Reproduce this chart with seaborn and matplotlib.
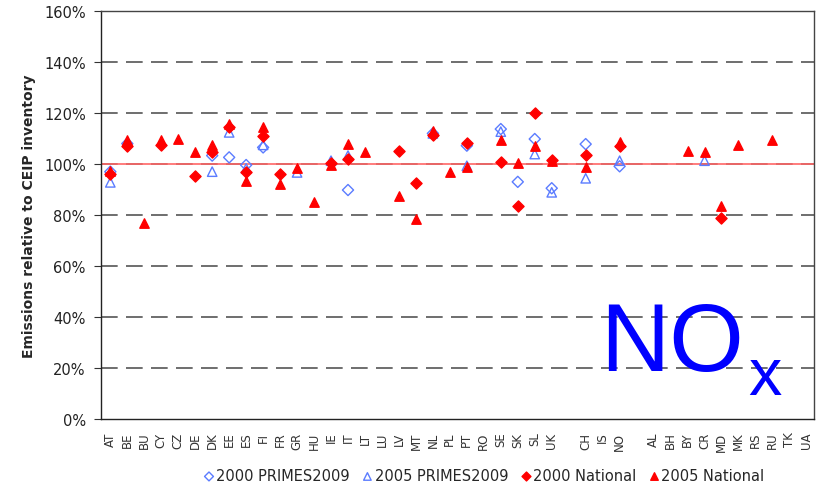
import matplotlib
matplotlib.use("Agg")
import matplotlib.pyplot as plt
import numpy as np
import pandas as pd
import seaborn as sns

# country codes on the x axis ("" = empty slot between groups)
countries = [
    "AT", "BE", "BU", "CY", "CZ", "DE", "DK", "EE", "ES", "FI", "FR", "GR", "HU", "IE",
    "IT", "LT", "LU", "LV", "MT", "NL", "PL", "PT", "RO", "SE", "SK", "SL", "UK", "",
    "CH", "IS", "NO", "", "AL", "BH", "BY", "CR", "MD", "MK", "RS", "RU", "TK", "UA",
]

# emissions relative to CEIP inventory, in %
primes_2000 = {
    "AT": 97, "BE": 108, "DK": 103.3, "EE": 102.6, "ES": 99.6, "FI": 106.5, "IT": 89.8,
    "NL": 112, "PT": 107.2, "SE": 113.7, "SK": 93, "SL": 109.8, "UK": 90.5,
    "CH": 107.8, "NO": 99.1,
}
primes_2005 = {
    "AT": 92.8, "DK": 97, "EE": 112.4, "ES": 98.3, "FI": 107.5, "GR": 96.7, "IE": 101.3,
    "IT": 103.3, "NL": 112, "PT": 99.3, "SE": 112.7, "SL": 103.9, "UK": 88.9,
    "CH": 94.4, "NO": 101.3, "CR": 101.3,
}
national_2000 = {
    "AT": 96, "BE": 107, "CY": 107.5, "DE": 95.4, "DK": 104.8, "EE": 114.4, "ES": 96.7,
    "FI": 111, "FR": 96, "IE": 100.5, "IT": 102, "LV": 105.2, "MT": 92.4, "NL": 111.4,
    "PT": 108.2, "SE": 100.7, "SK": 83.7, "SL": 120, "UK": 101.6, "CH": 103.5,
    "NO": 107, "MD": 78.7,
}
national_2005 = {
    "AT": 97.4, "BE": 109.5, "BU": 77, "CY": 109.4, "CZ": 110, "DE": 104.8, "DK": 107.5,
    "EE": 115.7, "ES": 93.5, "FI": 114.4, "FR": 92.2, "GR": 98.3, "HU": 85.2, "IE": 99.6,
    "IT": 107.8, "LT": 104.8, "LV": 87.6, "MT": 78.4, "NL": 113, "PL": 96.7, "PT": 98.7,
    "SE": 109.4, "SK": 100.4, "SL": 106.9, "UK": 101, "CH": 98.7, "NO": 108.5,
    "BY": 105.2, "CR": 104.6, "MD": 83.7, "MK": 107.4, "RU": 109.4,
}

series = [
    ("2000 PRIMES2009", primes_2000, "D", "none", "#5b7cff", 32),
    ("2005 PRIMES2009", primes_2005, "^", "none", "#5b7cff", 46),
    ("2000 National", national_2000, "D", "#ff0000", "#ff0000", 32),
    ("2005 National", national_2005, "^", "#ff0000", "#ff0000", 46),
]

sns.set_theme(style="white")
plt.rcParams["font.family"] = ["DejaVu Sans"]

fig = plt.figure(figsize=(8.21, 4.89), dpi=100)
ax = fig.add_axes([0.123, 0.141, 0.8685, 0.8345])

pos = {c: i for i, c in enumerate(countries) if c}

ax.set_ylim(0, 160)
ax.set_xlim(-0.55, len(countries) - 0.55)
for y in range(20, 160, 20):
    ax.axhline(y, color="#555555", lw=1.2, ls=(0, (10, 5)), zorder=1)
ax.axhline(100, color="#ff6666", lw=1.2, zorder=2)

for name, vals, marker, face, edge, size in series:
    df = pd.DataFrame({"x": [pos[c] for c in vals], "y": list(vals.values())})
    sns.scatterplot(data=df, x="x", y="y", ax=ax, marker=marker, s=size,
                    facecolor=face, edgecolor=edge, linewidth=1.0, zorder=3, label=name)

ax.set_xticks(range(len(countries)))
ax.set_xticklabels(countries, rotation=90, fontsize=8.5, color="#333333")
ax.set_yticks(np.arange(0, 161, 20))
ax.set_yticklabels([f"{v}%" for v in range(0, 161, 20)], fontsize=10.5, color="#222222")
ax.tick_params(axis="y", left=True, direction="out", length=5, width=0.8,
               color="#333333", pad=6)
ax.tick_params(axis="x", bottom=False, pad=3)
ax.set_xlabel("")
ax.set_ylabel("Emissions relative to CEIP inventory", fontsize=10, fontweight="bold", labelpad=6)

for side in ["left", "bottom"]:
    ax.spines[side].set_color("#222222")
    ax.spines[side].set_linewidth(1.0)
for side in ["top", "right"]:
    ax.spines[side].set_color("#444444")
    ax.spines[side].set_linewidth(1.0)

ax.text(37.35, 19.2, "NO", fontsize=69, color="#0000ff", family="Liberation Sans",
        ha="right", va="baseline", zorder=4)
ax.text(37.55, 9.8, "x", fontsize=48, color="#0000ff", family="Liberation Sans",
        ha="left", va="baseline", zorder=4)

handles, labels = ax.get_legend_handles_labels()
ax.get_legend().remove()
fig.legend(handles, labels, loc="center", bbox_to_anchor=(0.59, 0.025), ncol=4,
           frameon=False, fontsize=10.5, handlelength=0.6, handletextpad=0.2,
           columnspacing=0.9, markerscale=0.8)

fig.savefig("out.png", dpi=100)
